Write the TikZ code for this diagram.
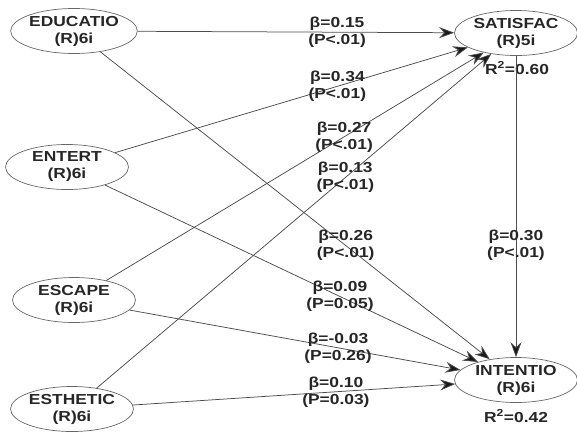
\documentclass[tikz,border=0pt]{standalone}
\usepackage{fontspec}
\setmainfont{Liberation Sans}[FakeStretch=1.2]
\usetikzlibrary{shapes}
\usetikzlibrary{arrows.meta}
\tikzset{construct/.style={ellipse, draw=black!60, line width=.7pt, minimum width=123pt, minimum height=45pt, inner sep=0pt, align=center, text=black!85, font=\bfseries\fontsize{14.5}{17}\selectfont}}
\tikzset{coef/.style={align=center, inner sep=0pt, text=black!85, font=\bfseries\fontsize{14.5}{17}\selectfont}}
\tikzset{link/.style={draw=black!70, line width=.75pt, -{Stealth[length=15pt,width=11pt,inset=5pt,fill=black!90]}}}

\begin{document}
\begin{tikzpicture}[x=1pt,y=-1pt]
  \useasboundingbox (0,0) rectangle (577,434);
  \foreach \x/\y/\name/\items/\lab in {
    74/31/EDUCATIO/6i/edu,
    67/167/ENTERT/6i/ent,
    74/300/ESCAPE/6i/esc,
    72/409/ESTHETIC/6i/est,
    516/33/SATISFAC/5i/sat,
    516/380/INTENTIO/6i/int%
  } {
    \node[construct] (\lab) at (\x, \y) {\name\\(R)\items};
  }
  \node[coef] (r2sat) at (517,68) {R\textsuperscript{2}=0.60};
  \node[coef] (r2int) at (516,416) {R\textsuperscript{2}=0.42};
  \foreach \u/\v/\b/\pv in {
    edu/sat/0.15/P<.01,
    ent/sat/0.34/P<.01,
    esc/sat/0.27/P<.01,
    est/sat/0.13/P<.01,
    edu/int/0.26/P<.01,
    ent/int/0.09/P=0.05,
    esc/int/-0.03/P=0.26,
    est/int/0.10/P=0.03,
    sat/int/0.30/P<.01%
  }{
    \draw[link] (\u) edge node[coef, pos=.63] {β=\b\\(\pv)} (\v);
  }
\end{tikzpicture}
\end{document}
